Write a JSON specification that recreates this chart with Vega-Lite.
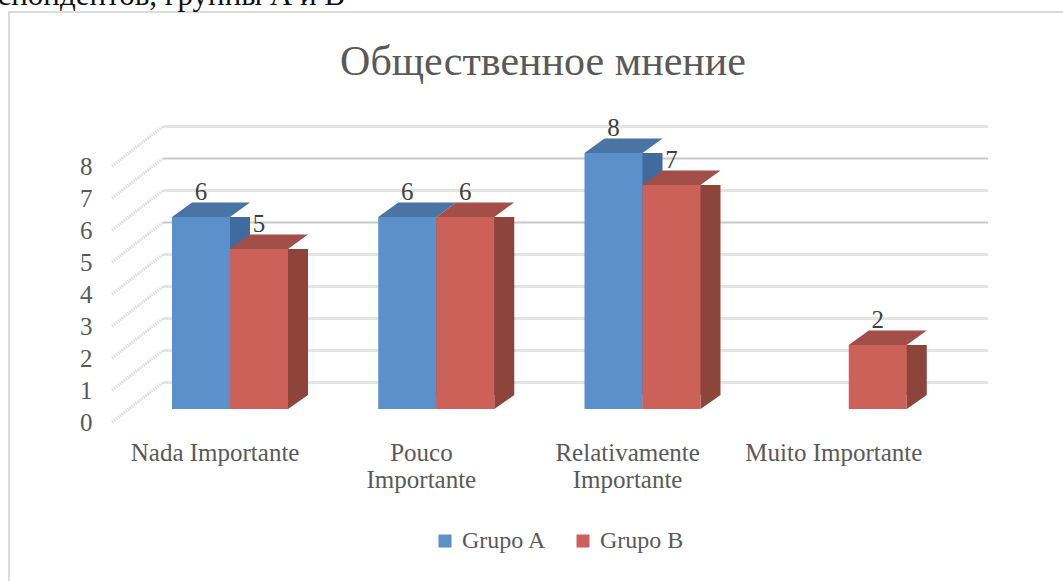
{"$schema":"https://vega.github.io/schema/vega-lite/v6.json","width":825,"height":256,"autosize":"none","padding":{"left":112,"top":166,"right":126,"bottom":159},"background":"white","view":{"stroke":null},
"datasets":{"bars":[{"cat":"Nada Importante","group":"Grupo A","value":6},{"cat":"Nada Importante","group":"Grupo B","value":5},{"cat":"Pouco Importante","group":"Grupo A","value":6},{"cat":"Pouco Importante","group":"Grupo B","value":6},{"cat":"Relativamente Importante","group":"Grupo A","value":8},{"cat":"Relativamente Importante","group":"Grupo B","value":7},{"cat":"Muito Importante","group":"Grupo B","value":2}],
"grid":[{"level":0},{"level":1},{"level":2},{"level":3},{"level":4},{"level":5},{"level":6},{"level":7},{"level":8}],
"note":[{"text":"респондентов, группы А и В","level":0}],
"heading":[{"text":"Общественное мнение","level":0}],
"frame":[{"level":0}]},
"data":{"name":"bars"},
"encoding":{"x":{"field":"cat","type":"nominal","sort":["Nada Importante","Pouco Importante","Relativamente Importante","Muito Importante"],"scale":{"paddingInner":0,"paddingOuter":0},"axis":{"title":null,"domain":false,"ticks":false,"labelAngle":0,"labelFont":"Liberation Serif","labelFontSize":25,"labelColor":"#595959","labelPadding":30,"labelLineHeight":27,"labelBaseline":"middle","labelExpr":"datum.label=='Pouco Importante'?['Pouco','Importante']:datum.label=='Relativamente Importante'?['Relativamente','Importante']:datum.label"}},
"y":{"type":"quantitative","scale":{"domain":[0,8]},"axis":{"title":null,"grid":false,"domain":false,"ticks":false,"values":[0,1,2,3,4,5,6,7,8],"labelFont":"Liberation Serif","labelFontSize":25,"labelColor":"#595959","labelPadding":20}}},
"layer":[
{"data":{"name":"frame"},"mark":{"type":"point","filled":false,"size":4,"shape":"M-103 159V-410H951","stroke":"#dcdcdc","strokeWidth":2,"opacity":1},"encoding":{"x":{"datum":"Nada Importante","bandPosition":0},"y":{"field":"level","type":"quantitative"}}},
{"data":{"name":"grid"},"mark":{"type":"point","filled":false,"size":4,"shape":"M0 0L51 -39.5","stroke":"#dcdcdc","strokeWidth":3,"strokeDash":[1.5,1],"opacity":1},"encoding":{"x":{"datum":"Nada Importante","bandPosition":0},"y":{"field":"level","type":"quantitative"}}},
{"data":{"name":"grid"},"mark":{"type":"point","filled":false,"size":4,"shape":"M51 -39.5H876","stroke":"#e4e4e4","strokeWidth":3,"opacity":1},"encoding":{"x":{"datum":"Nada Importante","bandPosition":0},"y":{"field":"level","type":"quantitative"}}},
{"data":{"name":"grid"},"transform":[{"filter":{"field":"level","oneOf":[5,7]}}],"mark":{"type":"point","filled":false,"size":4,"shape":"M51 -39.5H876","stroke":"#c8c8c8","strokeWidth":1,"opacity":1},"encoding":{"x":{"datum":"Nada Importante","bandPosition":0},"y":{"field":"level","type":"quantitative"}}},
{"mark":{"type":"bar","yOffset":-13,"y2Offset":-27},"encoding":{"xOffset":{"field":"group","scale":{"domain":["Grupo A","Grupo B"],"range":[80,196]}},"y":{"field":"value","type":"quantitative"},"y2":{"datum":0},"color":{"field":"group","scale":{"domain":["Grupo A","Grupo B"],"range":["#3F6B9E","#8C443B"]},"legend":null}}},
{"mark":{"type":"point","filled":true,"size":4,"shape":"M29 -13L49 -27H29Z","opacity":1},"encoding":{"xOffset":{"field":"group","scale":{"domain":["Grupo A","Grupo B"],"range":[60,176]}},"y":{"datum":0},"color":{"field":"group","scale":{"domain":["Grupo A","Grupo B"],"range":["#3F6B9E","#8C443B"]},"legend":null}}},
{"mark":{"type":"point","filled":true,"size":4,"shape":"M-29 -13L-9 -27.5H49L29 -13Z","opacity":1},"encoding":{"xOffset":{"field":"group","scale":{"domain":["Grupo A","Grupo B"],"range":[60,176]}},"y":{"field":"value","type":"quantitative"},"color":{"field":"group","scale":{"domain":["Grupo A","Grupo B"],"range":["#4A74A3","#A34F49"]},"legend":null}}},
{"mark":{"type":"bar","yOffset":-13,"y2Offset":-13},"encoding":{"xOffset":{"field":"group","scale":{"domain":["Grupo A","Grupo B"],"range":[60,176]}},"y":{"field":"value","type":"quantitative"},"y2":{"datum":0},"color":{"field":"group","scale":{"domain":["Grupo A","Grupo B"],"range":["#5B90CA","#CB6158"]},"legend":{"title":null,"orient":"none","legendX":321,"legendY":363,"direction":"horizontal","symbolType":"square","symbolSize":169,"symbolOpacity":1,"labelFont":"Liberation Serif","labelFontSize":24,"labelColor":"#595959","columnPadding":24,"labelOffset":5}}}},
{"mark":{"type":"text","font":"Liberation Serif","fontSize":25,"color":"#404040","dy":-38,"baseline":"middle"},"encoding":{"xOffset":{"field":"group","scale":{"domain":["Grupo A","Grupo B"],"range":[60,176]}},"y":{"field":"value","type":"quantitative"},"text":{"field":"value","type":"quantitative"}}},
{"data":{"name":"heading"},"mark":{"type":"text","font":"Liberation Serif","fontSize":42,"color":"#595959","align":"center","baseline":"alphabetic","dx":431,"dy":-347},"encoding":{"x":{"datum":"Nada Importante","bandPosition":0},"y":{"field":"level","type":"quantitative"},"text":{"field":"text"}}},
{"data":{"name":"note"},"mark":{"type":"text","font":"Liberation Serif","fontSize":31,"color":"#111111","align":"right","baseline":"alphabetic","dx":233,"dy":-417},"encoding":{"x":{"datum":"Nada Importante","bandPosition":0},"y":{"field":"level","type":"quantitative"},"text":{"field":"text"}}}
],
"resolve":{"scale":{"color":"independent","xOffset":"independent"}}}
